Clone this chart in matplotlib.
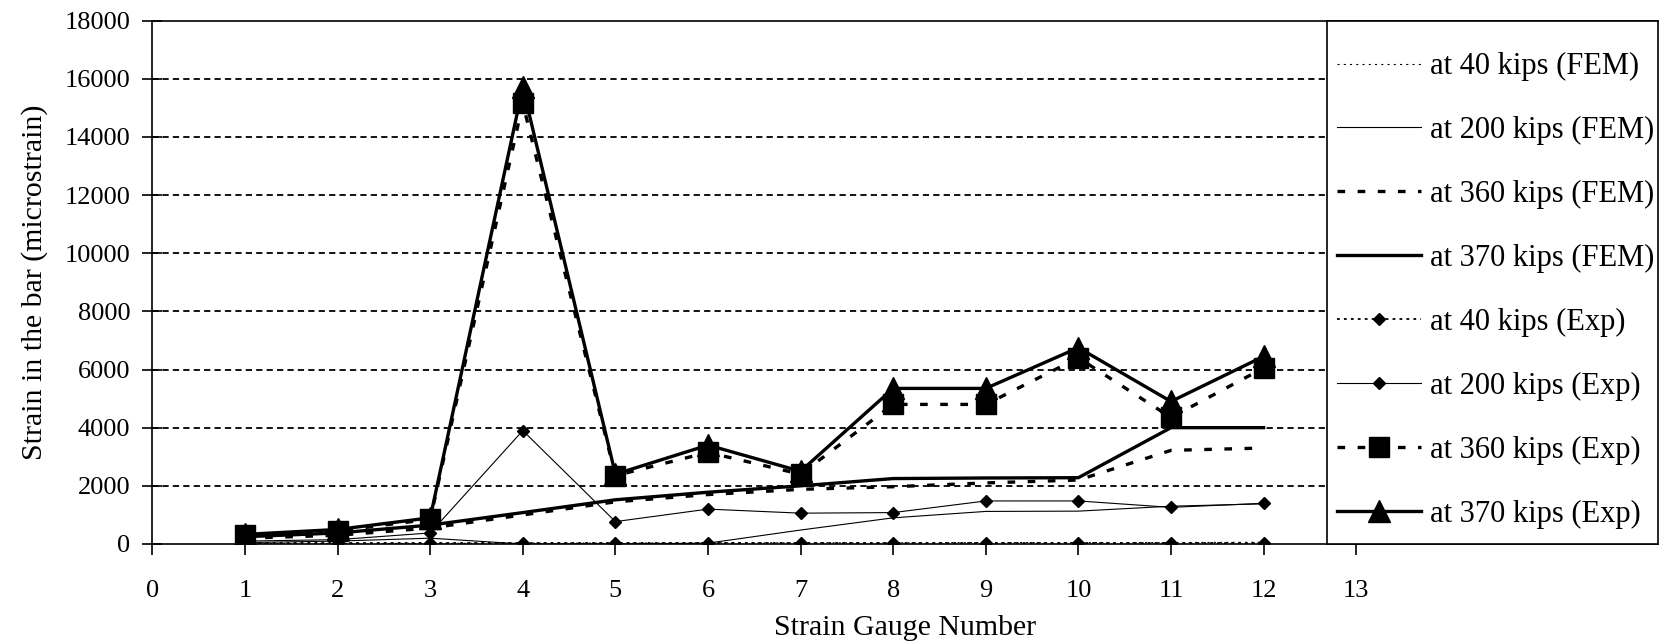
import matplotlib
matplotlib.use("Agg")
import matplotlib.pyplot as plt
from matplotlib.patches import Rectangle

plt.rcParams['font.family'] = ['Liberation Serif', 'DejaVu Serif']
plt.rcParams['lines.scale_dashes'] = False

# Strain gauge positions along the bar
gauges = [1, 2, 3, 4, 5, 6, 7, 8, 9, 10, 11, 12]

# Finite element predictions (microstrain)
fem_40 = [10, 20, 20, 30, 30, 40, 40, 40, 50, 50, 50, 60]
fem_200 = [50, 100, 200, 0, 0, 30, 480, 900, 1120, 1130, 1300, 1380]
fem_360 = [200, 300, 550, 1000, 1450, 1700, 1880, 1970, 2100, 2200, 3220, 3300]
fem_370 = [250, 380, 650, 1080, 1520, 1780, 2000, 2250, 2270, 2280, 4000, 4000]

# Measured strains (microstrain)
exp_40 = [50, 50, 50, 50, 50, 50, 50, 50, 50, 50, 50, 50]
exp_200 = [100, 150, 380, 3900, 770, 1200, 1060, 1080, 1480, 1480, 1260, 1400]
exp_360 = [300, 450, 850, 15150, 2350, 3150, 2400, 4800, 4800, 6400, 4350, 6050]
exp_370 = [330, 500, 900, 15700, 2400, 3400, 2500, 5350, 5350, 6750, 4900, 6450]

labels = ["at 40 kips (FEM)", "at 200 kips (FEM)", "at 360 kips (FEM)",
          "at 370 kips (FEM)", "at 40 kips (Exp)", "at 200 kips (Exp)",
          "at 360 kips (Exp)", "at 370 kips (Exp)"]

x_ticks = list(range(0, 14))
y_ticks = list(range(0, 18001, 2000))

W, H = 1671, 644
fig = plt.figure(figsize=(W / 100, H / 100), dpi=100)
left, right, top, bottom = 152.4, 1658, 20.5, 544
ax = fig.add_axes([left / W, 1 - bottom / H, (right - left) / W, (bottom - top) / H])

thin = 0.8
thick = 2.4
k = 'black'
handles = []
handles += ax.plot(gauges, fem_40, color=k, lw=thin, dashes=(1.5, 3.0))
handles += ax.plot(gauges, fem_200, color=k, lw=thin, ls='-')
handles += ax.plot(gauges, fem_360, color=k, lw=thick, dashes=(5.5, 9.0))
handles += ax.plot(gauges, fem_370, color=k, lw=thick, ls='-')
handles += ax.plot(gauges, exp_40, color=k, lw=1.3, dashes=(2.0, 3.0),
                   marker='D', markersize=6.5)
handles += ax.plot(gauges, exp_200, color=k, lw=thin, ls='-',
                   marker='D', markersize=6.5)
handles += ax.plot(gauges, exp_360, color=k, lw=thick, dashes=(5.5, 9.0),
                   marker='s', markersize=14)
handles += ax.plot(gauges, exp_370, color=k, lw=thick, ls='-',
                   marker='^', markersize=16)

ax.set_xlim(0, (right - left) / 92.6)
ax.set_ylim(0, 18000)
ax.set_xticks(x_ticks)
ax.set_yticks(y_ticks)
ax.tick_params(axis='x', direction='out', length=8, width=1.2, pad=18,
               labelsize=19)
ax.tick_params(axis='y', direction='inout', length=14, width=1.2, pad=9,
               labelsize=19)

for g in y_ticks[1:-1]:
    ax.axhline(g, color=k, lw=1.3, dashes=(4.5, 3.0), zorder=1)

for side in ('left', 'bottom', 'top'):
    ax.spines[side].set_linewidth(1.2)
ax.spines['right'].set_visible(False)

ax.set_xlabel("Strain Gauge Number", fontsize=21.5, labelpad=9)
ax.set_ylabel("Strain in the bar (microstrain)", fontsize=21.5, labelpad=12)

# Legend panel sitting over the right part of the plot area
box_x0 = (1326.5 - left) / (right - left)
ax.add_patch(Rectangle((box_x0, 0), 1 - box_x0, 1, transform=ax.transAxes,
                       facecolor='white', edgecolor=k, lw=1.2, zorder=5,
                       clip_on=False))
leg = ax.legend(handles, labels, loc='upper left',
                bbox_to_anchor=(box_x0, 1.0 - 21.0 / (bottom - top)),
                bbox_transform=ax.transAxes,
                frameon=False, borderaxespad=0, borderpad=0.35,
                handlelength=2.75, handletextpad=0.3, labelspacing=1.14,
                numpoints=1, fontsize=22)
leg.set_zorder(6)

fig.savefig("out.png", dpi=100)
